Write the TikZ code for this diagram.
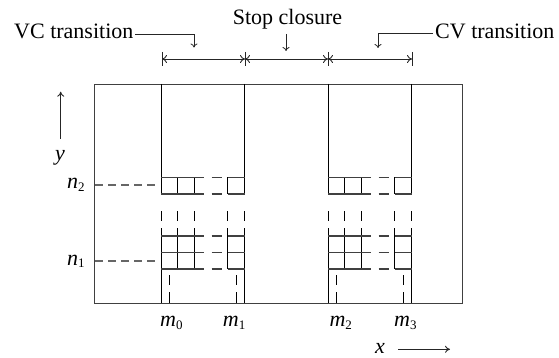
\documentclass[tikz,border=0pt]{standalone}
\usepackage{fontspec}
\setmainfont{Liberation Serif}
\usetikzlibrary{arrows.meta}
% symbol with a small lowered index, e.g. m_0
\newcommand{\symidx}[2]{\textit{#1}\raisebox{-2.5pt}{\fontsize{13}{13}\selectfont #2}}
\begin{document}
\begin{tikzpicture}[x=1pt,y=-1pt,
  frame/.style={draw=black!75, line width=0.9pt},
  colline/.style={draw=black, line width=0.9pt},
  gridline/.style={draw=black!75, line width=1.1pt},
  level/.style={draw=black!60, line width=1.1pt, dash pattern=on 8pt off 5pt},
  lbl/.style={font=\fontsize{22}{24}\selectfont, inner sep=0pt},
  arr/.style={draw=black!85, line width=0.8pt, -{To[length=4pt,width=7pt]}},
  axarr/.style={draw=black!85, line width=0.9pt, -{To[length=5pt,width=7pt]}},
  span/.style={draw=black!85, line width=0.9pt, {To[length=5pt,width=8pt]}-{To[length=5pt,width=8pt]}},
  tick/.style={draw=black!85, line width=0.9pt}]
\useasboundingbox (0,0) rectangle (559,358);

% outer frame
\draw[frame] (94,84) rectangle (462,303);

% the two transition columns with their sampling grids
\foreach \X in {161,328}{
  % column borders, broken between the two grid blocks
  \foreach \dx in {0,83.5}{
    \draw[colline] (\X+\dx,84) -- (\X+\dx,194);
    \draw[colline] (\X+\dx,211) -- (\X+\dx,221);
    \draw[colline] (\X+\dx,228) -- (\X+\dx,303);
  }
  % inner grid columns
  \foreach \dx in {16.7,33.3,66.7}{
    \draw[colline] (\X+\dx,177.3) -- (\X+\dx,194);
    \draw[colline] (\X+\dx,211) -- (\X+\dx,221);
    \draw[colline] (\X+\dx,228) -- (\X+\dx,269);
  }
  % grid rows
  \foreach \Y in {177.3,194,236,252.7,269}{
    \draw[gridline] (\X,\Y) -- (\X+42.5,\Y);
    \draw[gridline] (\X+50.5,\Y) -- (\X+60.5,\Y);
    \draw[gridline] (\X+66.7,\Y) -- (\X+83.5,\Y);
  }
  % dashed marks down to the x axis
  \foreach \dx in {8.3,75.2}{
    \draw[colline] (\X+\dx,275) -- (\X+\dx,285);
    \draw[colline] (\X+\dx,292) -- (\X+\dx,303);
  }
}

% row levels n_1, n_2
\node[lbl, anchor=base west] (n2) at (67,189) {\symidx{n}{2}};
\node[lbl, anchor=base west] (n1) at (67,265) {\symidx{n}{1}};
\draw[level] (95,185) -- (156,185);
\draw[level] (95,261) -- (156,261);

% column labels
\node[lbl, anchor=base west] (m0) at (160,326.7) {\symidx{m}{0}};
\node[lbl, anchor=base west] (m1) at (222.7,326.7) {\symidx{m}{1}};
\node[lbl, anchor=base west] (m2) at (329.3,326.7) {\symidx{m}{2}};
\node[lbl, anchor=base west] (m3) at (394,326.7) {\symidx{m}{3}};

% axes
\node[lbl, anchor=base] (ylab) at (60,160.7) {\textit{y}};
\coordinate (yfrom) at (60.7,139);
\coordinate (yto) at (60.7,91.7);
\draw[axarr] (yfrom) -- (yto);
\node[lbl, anchor=base] (xlab) at (380,353) {\textit{x}};
\coordinate (xfrom) at (398,349.3);
\coordinate (xto) at (450,349.3);
\draw[axarr] (xfrom) -- (xto);

% segment bar above the frame
\foreach \bx [count=\i] in {162,245,328,412}{
  \coordinate (b\i) at (\bx,59);
  \draw[tick] (\bx,52) -- (\bx,66);
}
\draw[span] (b1) -- (b2);
\draw[span] (b2) -- (b3);
\draw[span] (b3) -- (b4);

% segment names and their pointers
\node[lbl, anchor=base west] (vc) at (14,38.3) {VC transition};
\node[lbl, anchor=base] (stop) at (287.5,24.5) {Stop closure};
\node[lbl, anchor=base west] (cv) at (435,38.3) {CV transition};
\coordinate (vcfrom) at (135,34);
\coordinate (vcto) at (194,47.5);
\draw[arr] (vcfrom) -| (vcto);
\coordinate (stfrom) at (286,34);
\coordinate (stto) at (286,51);
\draw[arr] (stfrom) -- (stto);
\coordinate (cvfrom) at (433,33.5);
\coordinate (cvto) at (378,48);
\draw[arr] (cvfrom) -| (cvto);
\end{tikzpicture}
\end{document}
